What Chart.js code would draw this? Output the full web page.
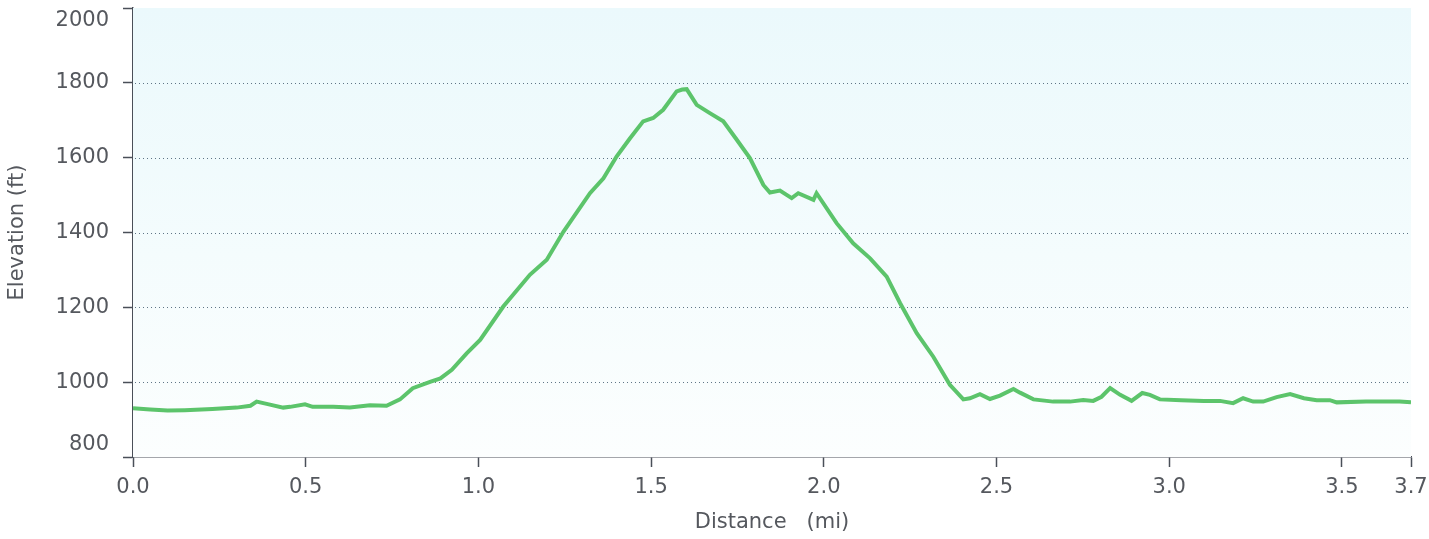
<!DOCTYPE html>
<html>
<head>
<meta charset="utf-8">
<script src="https://cdn.jsdelivr.net/npm/chart.js@4.4.1/dist/chart.umd.min.js"></script>
<style>
  html,body{margin:0;padding:0;background:#fff;}
  #wrap{width:1429px;height:539px;position:relative;}
</style>
</head>
<body>
<div id="wrap"><canvas id="c" width="1429" height="539"></canvas></div>
<script>
const distanceMi = [0.00,0.05,0.10,0.15,0.23,0.30,0.34,0.358,0.387,0.435,0.455,0.498,0.52,0.58,0.628,0.686,0.734,0.773,0.81,0.86,0.89,0.923,0.966,1.005,1.072,1.149,1.198,1.246,1.323,1.362,1.40,1.439,1.477,1.506,1.535,1.574,1.59,1.603,1.632,1.67,1.709,1.748,1.786,1.825,1.844,1.873,1.907,1.926,1.97,1.979,2.037,2.085,2.134,2.182,2.221,2.269,2.317,2.365,2.404,2.423,2.452,2.481,2.51,2.549,2.568,2.607,2.664,2.713,2.751,2.78,2.804,2.829,2.858,2.891,2.922,2.944,2.973,3.035,3.10,3.147,3.185,3.214,3.243,3.272,3.311,3.35,3.39,3.427,3.465,3.485,3.57,3.667,3.70];
const elevationFt = [930,927,924,925,928,932,937,948,942,932,934,941,934,934,932,938,937,954,984,1001,1010,1033,1077,1113,1202,1287,1327,1402,1505,1545,1603,1652,1697,1706,1728,1777,1782,1783,1741,1719,1697,1648,1599,1527,1507,1512,1492,1505,1487,1505,1425,1371,1331,1282,1211,1131,1068,993,954,957,968,955,964,982,972,954,948,948,952,950,961,984,966,950,971,966,954,952,950,950,944,957,948,948,960,968,957,952,952,946,948,948,946];
const xTickValues = [0.0,0.5,1.0,1.5,2.0,2.5,3.0,3.5,3.7];
const yTickValues = [800,1000,1200,1400,1600,1800,2000];
const yGridValues = [1000,1200,1400,1600,1800];

const bgPlugin = {
  id:'bgGrid',
  beforeDatasetsDraw(chart){
    const {ctx, chartArea:a, scales} = chart;
    ctx.save();
    const g = ctx.createLinearGradient(0,a.top,0,a.bottom);
    g.addColorStop(0,'#ebf9fc');
    g.addColorStop(0.55,'#f4fcfd');
    g.addColorStop(1,'#fcfefe');
    ctx.fillStyle = g;
    ctx.fillRect(a.left,a.top,a.right-a.left,a.bottom-a.top);
    ctx.strokeStyle = '#5f7586';
    ctx.lineWidth = 1;
    ctx.setLineDash([1,3]);
    yGridValues.forEach(v=>{
      const y = Math.round(scales.y.getPixelForValue(v))+0.5;
      ctx.beginPath(); ctx.moveTo(a.left+2,y); ctx.lineTo(a.right,y); ctx.stroke();
    });
    ctx.restore();
  }
};

const font = {family:'"DejaVu Sans", Verdana, sans-serif', size:21};
const yMin = yTickValues[0], yMax = yTickValues[yTickValues.length-1];

new Chart(document.getElementById('c'),{
  type:'line',
  data:{datasets:[{
    data: distanceMi.map((d,i)=>({x:d,y:elevationFt[i]})),
    borderColor:'#5cc46b',
    borderWidth:4,
    pointRadius:0,
    tension:0,
    fill:false
  }]},
  options:{
    responsive:false,
    animation:false,
    devicePixelRatio:1,
    layout:{padding:{left:0,right:18,top:8,bottom:0}},
    plugins:{legend:{display:false},tooltip:{enabled:false}},
    scales:{
      x:{
        type:'linear',min:0,max:3.7,
        afterBuildTicks(ax){ax.ticks = xTickValues.map(v=>({value:v}));},
        afterFit(ax){ax.height = 82; ax.paddingLeft = 0; ax.paddingRight = 0;},
        ticks:{font, color:'#55585e', padding:8, autoSkip:false, maxRotation:0, callback:v=>v.toFixed(1)},
        grid:{drawOnChartArea:false, drawTicks:true, tickLength:10, tickColor:'#4a4f58', tickWidth:1.5},
        border:{display:true, color:'#4a4f58', width:1.5},
        title:{display:true, text:'Distance   (mi)', font, color:'#55585e', padding:{top:0,bottom:4}}
      },
      y:{
        type:'linear',min:yMin,max:yMax,
        afterBuildTicks(ax){ax.ticks = yTickValues.map(v=>({value:v}));},
        afterFit(ax){ax.width = 133; ax.paddingTop = 0; ax.paddingBottom = 0;},
        ticks:{font:{...font, lineHeight:1.15}, color:'#55585e', padding:14,
          callback:v=> v===yMax ? ['', String(v)] : (v===yMin ? [String(v), ''] : String(v))},
        grid:{drawOnChartArea:false, drawTicks:true, tickLength:10, tickColor:'#4a4f58', tickWidth:1.5},
        border:{display:true, color:'#4a4f58', width:1.5},
        title:{display:true, text:'Elevation (ft)', font, color:'#55585e', padding:{top:5,bottom:0}}
      }
    }
  },
  plugins:[bgPlugin]
});
</script>
</body>
</html>
